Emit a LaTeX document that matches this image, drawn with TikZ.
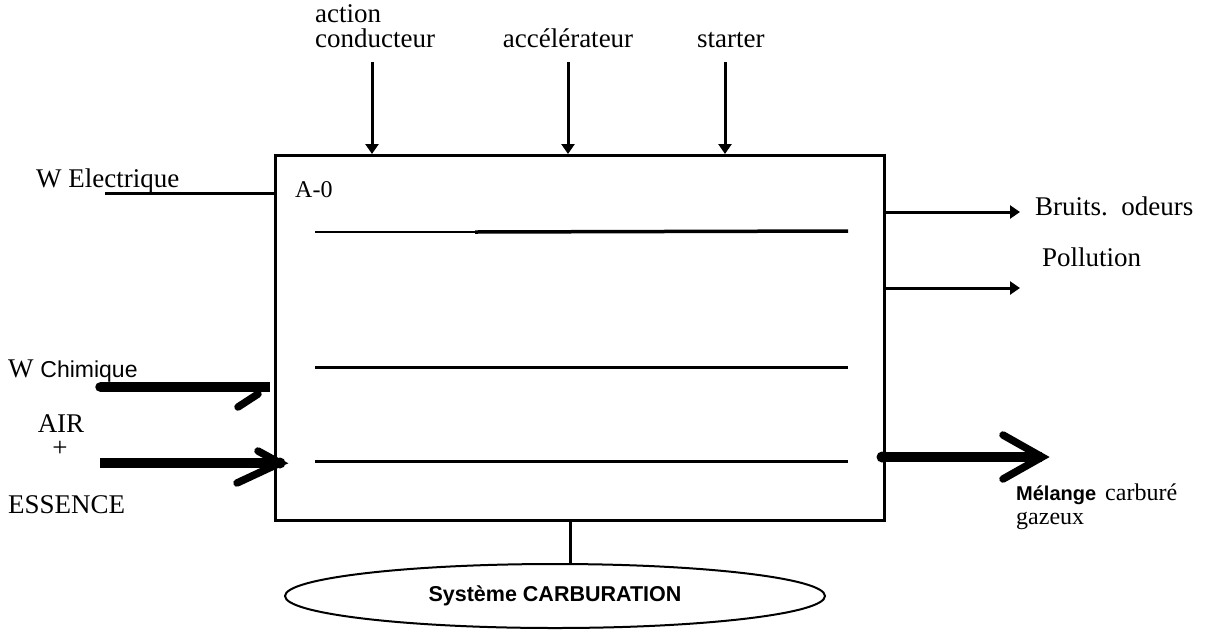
\documentclass[tikz,border=0pt]{standalone}
\usepackage{fontspec}
\setmainfont{Liberation Serif}
\newfontfamily\arialf{Liberation Sans}
\usetikzlibrary{arrows.meta,shapes.geometric}
\begin{document}
\begin{tikzpicture}[x=1pt,y=-1pt,
  lbl/.style={inner sep=0pt,font=\fontsize{27}{27}\selectfont},
  thin line/.style={line width=3pt},
  toparrow/.style={line width=3pt,-{Triangle[width=13pt,length=10pt]}},
  rightarrow/.style={line width=3pt,-{Triangle[width=13pt,length=10pt]}},
  heavy/.style={line width=9.5pt},
  barb/.style={line width=7.5pt,line cap=round}]
\useasboundingbox (0,0) rectangle (1213,633);

% main box
\node[draw,line width=3pt,minimum width=609pt,minimum height=365pt,anchor=north west,inner sep=0pt] (box) at (274,154) {};
\node[lbl,anchor=base west,font=\fontsize{24}{24}\selectfont] (a0) at (295,197) {A-0};

% inner lines
\coordinate (l1a) at (315,232); \coordinate (l1b) at (475,232); \coordinate (l1c) at (848,231);
\draw[line width=2pt] (l1a) -- (l1b);
\draw[line width=3.5pt] (l1b) -- (l1c);
\coordinate (l2a) at (315,367); \coordinate (l2b) at (848,367);
\draw[thin line] (l2a) -- (l2b);
\coordinate (l3a) at (315,461); \coordinate (l3b) at (848,461);
\draw[thin line] (l3a) -- (l3b);

% top controls
\node[lbl,anchor=base west] (act) at (315,22) {action};
\node[lbl,anchor=base west] (cond) at (315,47) {conducteur};
\node[lbl,anchor=base] (acc) at (568,47) {accélérateur};
\node[lbl,anchor=base west] (start) at (697,47) {starter};
\coordinate (c1) at (372,62); \coordinate (c2) at (568,62); \coordinate (c3) at (725,62);
\draw[toparrow] (c1) -- (c1 |- box.north);
\draw[toparrow] (c2) -- (c2 |- box.north);
\draw[toparrow] (c3) -- (c3 |- box.north);

% W Electrique
\node[lbl,anchor=base west] (welec) at (36,187) {W Electrique};
\coordinate (we) at (105,193);
\draw[thin line] (we) -- (we -| box.west);

% W Chimique
\node[lbl,anchor=base west] (wchim) at (8,377) {W \arialf\fontsize{23}{23}\selectfont Chimique};
\coordinate (wc) at (100,387); \coordinate (wce) at (270,387);
\draw[heavy] (wc) -- (wce);
\fill (wc) circle (4.75pt);
\coordinate (wcb1) at (258,394); \coordinate (wcb2) at (238,407);
\draw[barb] (wcb1) -- (wcb2);

% AIR + ESSENCE
\node[lbl,anchor=base] (air) at (61,432) {AIR};
\node[lbl,anchor=center] (plus) at (60,449) {+};
\node[lbl,anchor=base west] (ess) at (8,513) {ESSENCE};
\coordinate (ae) at (100,463); \coordinate (aetip) at (280,463);
\draw[heavy] (ae) -- (aetip);
\coordinate (aeu) at (258,451); \coordinate (ael) at (237,483);
\draw[barb] (aeu) -- (aetip) -- (ael);
\fill (aetip) circle (5.5pt);

% outputs
\node[lbl,anchor=base west] (bruits) at (1035,215) {Bruits.\ \ odeurs};
\node[lbl,anchor=base west] (poll) at (1042,266) {Pollution};
\coordinate (o1) at (1020,212); \coordinate (o2) at (1020,288);
\draw[rightarrow] (o1 -| box.east) -- (o1);
\draw[rightarrow] (o2 -| box.east) -- (o2);

\coordinate (ms) at (882,457); \coordinate (mtip) at (1042,457);
\coordinate (mu) at (1003,435); \coordinate (ml) at (1003,479);
\draw[heavy] (ms) -- (mtip);
\draw[barb] (mu) -- (mtip) -- (ml);
\fill (ms) circle (5.5pt);
\node[anchor=base west,inner sep=0pt] (mel) at (1016,500) {{\arialf\bfseries\fontsize{20}{20}\selectfont Mélange}\hspace{9pt}{\fontsize{24}{24}\selectfont carburé}};
\node[lbl,anchor=base west,font=\fontsize{24}{24}\selectfont] (gaz) at (1016,524) {gazeux};

% mechanism
\node[draw,ellipse,line width=2pt,minimum width=540pt,minimum height=64pt,inner sep=0pt] (sys) at (555,596) {\raisebox{-10pt}{\arialf\bfseries\fontsize{21.5}{21.5}\selectfont Système CARBURATION}};
\coordinate (mv) at (570,519);
\draw[thin line] (mv) -- (mv |- sys.north);
\end{tikzpicture}
\end{document}
